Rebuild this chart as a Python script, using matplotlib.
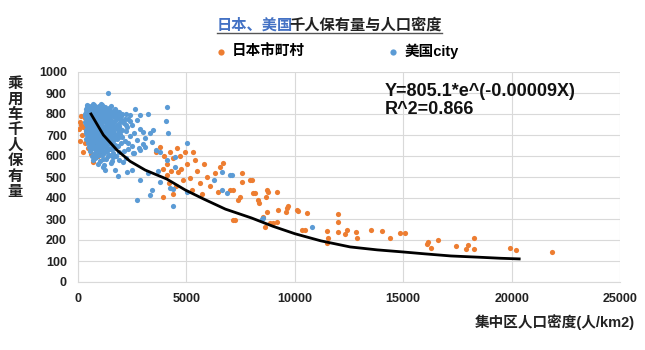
import matplotlib
matplotlib.use("Agg")
import matplotlib.pyplot as plt

plt.rcParams['font.family'] = ['Liberation Sans', 'Noto Sans CJK SC', 'DejaVu Sans']

# ---- data ----
# Japan (orange): municipalities
jp_x = [50, 100, 150, 250, 300, 350, 400, 200, 500, 100, 300, 450, 250, 600, 800, 1000, 700, 900, 150, 550,
        3600, 3790, 3950, 4100, 4250, 4400, 4570, 4700, 4950, 5320, 5410, 3900, 4100, 4300, 4620, 4860, 5050,
        5180, 5640, 5960, 3930, 4200, 4500, 4750, 5500, 5800, 6100, 6300, 6560, 6700, 5250, 4400, 5700, 6450,
        7000, 7160, 7480, 7570, 7400, 7940, 8030, 8090, 8170, 8300, 8370, 8720, 8680, 8770, 9180, 9230, 8720,
        9640, 9700, 9600, 10100, 10150, 7260, 9000, 8860, 9180, 8630, 8540, 10340, 10480, 10570, 7160, 7570,
        11490, 11540, 11490, 12000, 12000, 12000, 12320, 12400, 12830, 12870, 13520, 14030, 14400, 14860,
        15090, 16100, 16150, 16280, 16600, 17430, 17990, 17900, 18270, 18270, 19920, 20200, 21860]
jp_y = [730, 760, 790, 740, 780, 720, 770, 700, 690, 670, 660, 640, 620, 610, 650, 615, 570, 600, 750, 730,
        620, 643, 600, 560, 620, 590, 638, 600, 619, 619, 581, 540, 510, 530, 524, 486, 560,
        495, 471, 500, 405, 470, 455, 540, 530, 560, 455, 520, 547, 566, 440, 420, 420, 430,
        438, 438, 405, 519, 390, 485, 485, 424, 424, 390, 376, 438, 405, 428, 428, 343, 333,
        352, 362, 333, 343, 338, 295, 281, 281, 286, 262, 309, 248, 248, 328, 295, 476,
        243, 210, 186, 324, 286, 238, 228, 248, 238, 210, 248, 243, 210, 233,
        233, 181, 190, 162, 200, 171, 176, 157, 210, 157, 162, 152, 143]

# US (blue): cities
us_x = [400, 600, 750, 950, 1100, 1300, 1500, 1700,
        350, 500, 700, 850, 1000, 1200, 1400, 1600, 1900, 2200,
        300, 450, 650, 800, 950, 1150, 1300, 1450, 1650, 1850, 2050, 2400,
        380, 550, 720, 880, 1020, 1180, 1350, 1500, 1750, 2000, 2300, 2700,
        320, 480, 620, 780, 930, 1080, 1240, 1400, 1580, 1800, 2100, 2500,
        400, 560, 700, 860, 1000, 1150, 1320, 1480, 1680, 1950, 2250, 2850,
        350, 520, 670, 820, 980, 1120, 1280, 1450, 1620, 1900, 2200, 2600,
        420, 600, 750, 900, 1050, 1220, 1380, 1550, 1750, 2050, 2400, 3100,
        380, 560, 720, 880, 1030, 1200, 1360, 1530, 1800, 2150, 2700, 3400,
        450, 650, 820, 980, 1150, 1320, 1500, 1700, 2000, 2500, 3000,
        500, 700, 880, 1050, 1250, 1450, 1650, 2300, 2800, 3600,
        550, 780, 950, 1150, 1350, 1600, 1900, 2600,
        650, 850, 1100, 1400, 1750, 2200,
        700, 1000, 1300, 1550, 1900,
        900, 1200, 1500,
        500, 680, 870, 1050, 1250, 1420,
        420, 600, 780, 930, 1120, 1320, 1520, 1750,
        380, 560, 740, 900, 1080, 1250, 1420, 1580, 1780, 2000,
        330, 500, 680, 830, 990, 1130, 1280, 1430, 1600, 1850, 2150,
        420, 580, 760, 900, 1050, 1200, 1380, 1550, 1700, 1950, 2400,
        360, 530, 660, 820, 970, 1120, 1280, 1440, 1620, 1880, 2200,
        440, 600, 760, 920, 1060, 1200, 1380, 1550, 1800, 2050,
        380, 560, 710, 860, 1000, 1160, 1320, 1480, 1680, 1950,
        470, 640, 800, 960, 1120, 1290, 1450, 1650, 1900,
        520, 700, 860, 1020, 1190, 1380, 1600, 2300,
        580, 760, 930, 1100, 1350, 1550, 1850,
        620, 830, 1050, 1250, 1500, 2100,
        720, 980, 1200, 1450,
        800, 1150,
        1400, 2640, 4110, 3250, 2870, 4070, 3470, 3010, 4160, 3330, 5040, 3100, 2870, 2550, 3790,
        4110, 4480, 2090, 1630, 1170, 1260, 1720, 1860, 2270, 2500, 2870, 3250, 3700, 3790, 4250,
        4390, 3420, 3330, 2730, 4390, 5040, 4480, 6250, 6650, 7020, 6890, 8540, 8490, 10800, 6650, 7110]
us_y = [842, 828, 845, 836, 843, 825, 840, 822,
        822, 818, 825, 815, 822, 812, 820, 810, 808, 798,
        800, 805, 796, 803, 798, 806, 795, 802, 798, 790, 800, 795,
        782, 776, 785, 778, 784, 775, 782, 772, 780, 770, 778, 770,
        762, 758, 765, 755, 763, 757, 765, 752, 760, 750, 755, 748,
        742, 736, 745, 738, 744, 735, 742, 732, 740, 730, 738, 728,
        722, 716, 724, 718, 725, 715, 722, 712, 720, 712, 718, 708,
        702, 696, 705, 698, 704, 695, 702, 692, 700, 690, 697, 688,
        682, 676, 685, 678, 684, 675, 682, 672, 680, 670, 676, 668,
        662, 656, 665, 658, 664, 655, 662, 652, 660, 650, 656,
        642, 636, 645, 638, 644, 635, 640, 632, 640, 630,
        622, 616, 625, 618, 624, 615, 620, 612,
        602, 596, 605, 598, 600, 592,
        582, 576, 585, 578, 580,
        562, 558, 565,
        838, 848, 832, 846, 835, 829,
        831, 828, 833, 827, 832, 826, 816, 812,
        811, 808, 813, 806, 812, 805, 810, 804, 796, 790,
        791, 787, 793, 786, 792, 785, 790, 784, 789, 783, 776,
        771, 767, 773, 766, 772, 765, 770, 764, 769, 763, 766,
        751, 747, 753, 746, 752, 745, 750, 744, 749, 743, 746,
        731, 727, 733, 726, 732, 725, 730, 724, 729, 723,
        711, 707, 713, 706, 712, 705, 710, 704, 709, 703,
        691, 687, 693, 686, 692, 685, 690, 684, 689,
        671, 667, 673, 666, 672, 665, 670, 664,
        651, 647, 653, 646, 652, 645, 650,
        631, 627, 633, 626, 632, 625,
        611, 607, 613, 606,
        591, 587,
        900, 823, 833, 800, 795, 766, 723, 714, 709, 709, 662, 643, 628, 614, 619,
        581, 595, 571, 595, 547, 533, 533, 505, 524, 533, 486, 519, 528, 476, 447,
        443, 438, 414, 390, 362, 428, 547, 486, 438, 509, 424, 305, 300, 262, 524, 509]

# trend curve
trend_x = [600, 1170, 1800, 2400, 3100, 4100, 4950, 5800, 6800, 8000, 9000, 10000, 11200,
           12550, 13800, 15000, 16000, 17200, 18500, 19500, 20350]
trend_y = [800, 700, 628, 575, 533, 490, 438, 395, 347, 305, 265, 230, 196,
           167, 153, 143, 134, 124, 118, 113, 110]

x_ticks = [0, 5000, 10000, 15000, 20000, 25000]
y_ticks = [0, 100, 200, 300, 400, 500, 600, 700, 800, 900, 1000]

orange = '#ED7D31'
blue = '#5B9BD5'

fig = plt.figure(figsize=(6.45, 3.5), dpi=100)
ax = fig.add_axes([78 / 645, 1 - 282 / 350, 542 / 645, 210 / 350])

ax.scatter(jp_x, jp_y, s=14, color=orange, linewidths=0, label='日本市町村', zorder=3)
ax.scatter(us_x, us_y, s=14, color=blue, linewidths=0, label='美国city', zorder=4)
ax.plot(trend_x, trend_y, color='black', lw=2, zorder=5)

ax.set_xlim(0, 25000)
ax.set_ylim(0, 1000)
ax.set_xticks(x_ticks)
ax.set_yticks(y_ticks)
ax.grid(True, color='#d9d9d9', lw=0.8)
ax.set_axisbelow(True)
for s in ['top', 'right']:
    ax.spines[s].set_visible(False)
for s in ['left', 'bottom']:
    ax.spines[s].set_color('#d9d9d9')
ax.tick_params(length=0, labelsize=9, pad=8, colors='#222222')
for lab in ax.get_xticklabels() + ax.get_yticklabels():
    lab.set_fontweight('bold')

ax.text((385 - 78) / 542, (282 - 92) / 210, 'Y=805.1*e^(-0.00009X)', transform=ax.transAxes,
        fontsize=13, fontweight='bold', va='center', ha='left', color='#111111')
ax.text((385 - 78) / 542, (282 - 109) / 210, 'R^2=0.866', transform=ax.transAxes,
        fontsize=13, fontweight='bold', va='center', ha='left', color='#111111')

leg = fig.legend(loc='center', bbox_to_anchor=(336 / 645, 1 - 51 / 350), ncol=2, frameon=False,
                 prop={'size': 10.5, 'weight': 'bold'}, handlelength=1.0, handletextpad=0.3,
                 columnspacing=5.5, markerscale=1.2)

# title: two coloured parts, underlined
fig.canvas.draw()
r = fig.canvas.get_renderer()
t1 = fig.text(217 / 645, 1 - 25 / 350, '日本、美国', color='#4472C4', fontsize=11,
              fontweight='bold', va='center', ha='left')
b1 = t1.get_window_extent(r)
t2 = fig.text((b1.x1 - 4) / fig.bbox.width, 1 - 25 / 350, '千人保有量与人口密度', color='#222222',
              fontsize=11, fontweight='bold', va='center', ha='left')
b2 = t2.get_window_extent(r)
uy = (b1.y0 - 1) / fig.bbox.height
fig.add_artist(plt.Line2D([b1.x0 / fig.bbox.width, b2.x1 / fig.bbox.width], [uy, uy],
                          color='#555555', lw=1))

fig.text(15 / 645, 1 - 138 / 350, '\n'.join('乘用车千人保有量'), fontsize=11, fontweight='bold',
         ha='center', va='center', linespacing=1.12, color='#222222')
fig.text(635 / 645, 1 - 322 / 350, '集中区人口密度(人/km2)', fontsize=10.5, fontweight='bold',
         ha='right', va='center', color='#222222')

fig.savefig('out.png', dpi=100)
